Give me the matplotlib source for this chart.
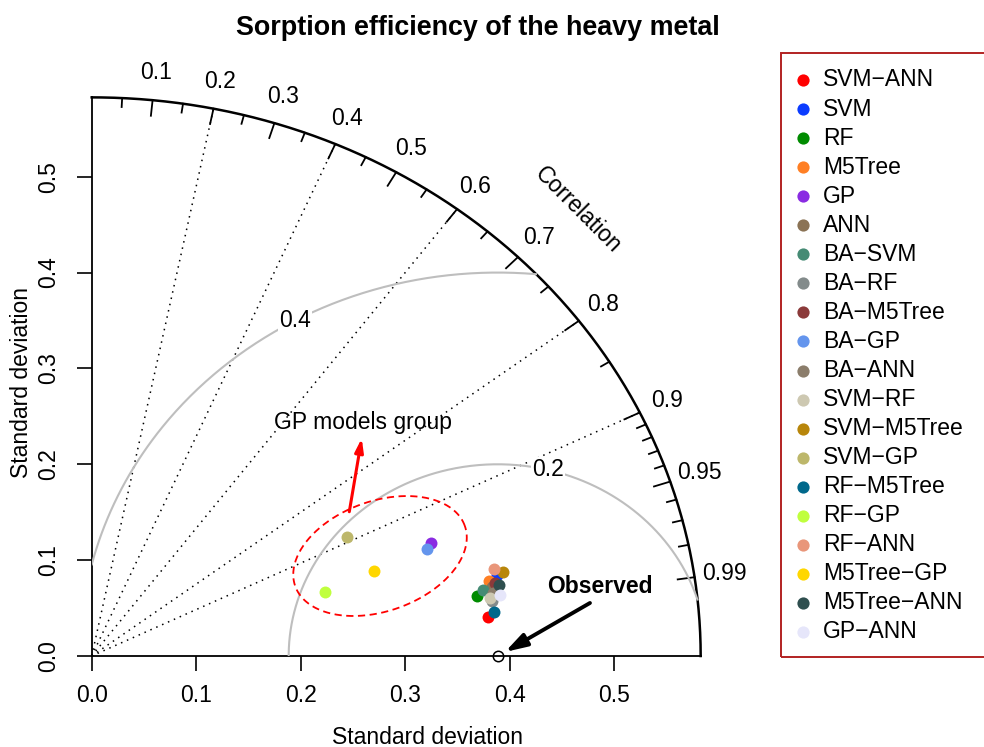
import numpy as np
import matplotlib
matplotlib.use('Agg')
import matplotlib.pyplot as plt
from matplotlib.lines import Line2D
from matplotlib.patches import Rectangle

plt.rcParams['font.family'] = ['Liberation Sans', 'DejaVu Sans']

# models, in the order they are plotted / listed in the legend
models = ['SVM\u2212ANN', 'SVM', 'RF', 'M5Tree', 'GP', 'ANN', 'BA\u2212SVM', 'BA\u2212RF',
          'BA\u2212M5Tree', 'BA\u2212GP', 'BA\u2212ANN', 'SVM\u2212RF', 'SVM\u2212M5Tree',
          'SVM\u2212GP', 'RF\u2212M5Tree', 'RF\u2212GP', 'RF\u2212ANN', 'M5Tree\u2212GP',
          'M5Tree\u2212ANN', 'GP\u2212ANN']
colors = ['#FF0000', '#0B3CFF', '#008B00', '#FF7F24', '#8A2BE2', '#8B7355', '#458B74',
          '#838B8B', '#8B3A3A', '#6495ED', '#8B7D6B', '#CDC8B1', '#B8860B', '#BDB76B',
          '#00688B', '#C0FF3E', '#E9967A', '#FFD700', '#2F4F4F', '#E6E6FA']
# standard deviation and correlation of each model
sd = [0.3817, 0.3972, 0.3742, 0.3885, 0.3451, 0.3897, 0.3805, 0.3871, 0.3934, 0.3399,
      0.3896, 0.3858, 0.4030, 0.2736, 0.3880, 0.2332, 0.3958, 0.2840, 0.3970, 0.3958]
cor = [0.9942, 0.9771, 0.9861, 0.9794, 0.9401, 0.9828, 0.9835, 0.9889, 0.9812, 0.9449,
       0.9855, 0.9878, 0.9759, 0.8918, 0.9931, 0.9576, 0.9735, 0.9503, 0.9824, 0.9871]
sd_obs = 0.3885

corr_major = [0.1, 0.2, 0.3, 0.4, 0.5, 0.6, 0.7, 0.8, 0.9, 0.95, 0.99]
corr_minor = [0.05, 0.15, 0.25, 0.35, 0.45, 0.55, 0.65, 0.75, 0.85,
              0.91, 0.92, 0.93, 0.94, 0.96, 0.97, 0.98]
corr_rays = [0.2, 0.4, 0.6, 0.8, 0.9]
gammas = [0.2, 0.4]
gamma_label_deg = [76, 119]
sd_ticks = [0.0, 0.1, 0.2, 0.3, 0.4, 0.5]

maxray = 1.5 * sd_obs
W, H = 984, 747
xs, ys = 1045.0, 958.6   # pixels per unit
x0, y0 = 91.7, 656.0
fs = 16.5

fig = plt.figure(figsize=(W / 100, H / 100), dpi=100)
lim = 0.66
ax = fig.add_axes([x0 / W, (H - y0) / H, lim * xs / W, lim * ys / H])
ax.set_xlim(0, lim)
ax.set_ylim(0, lim)
for s in ax.spines.values():
    s.set_visible(False)
ax.patch.set_visible(False)

# axes lines
ax.plot([0, maxray], [0, 0], color='black', lw=1.3, clip_on=False)
ax.plot([0, 0], [0, maxray], color='black', lw=1.3, clip_on=False)

ax.set_xticks(sd_ticks)
ax.set_yticks(sd_ticks)
ax.set_xticklabels(['%.1f' % v for v in sd_ticks])
ax.set_yticklabels(['%.1f' % v for v in sd_ticks], rotation=90, va='center')
ax.tick_params(direction='out', length=10.5, width=1.2, labelsize=fs)
ax.tick_params(axis='x', pad=10)
ax.tick_params(axis='y', pad=12)

# outer arc
th = np.linspace(0, np.pi / 2, 300)
ax.plot(maxray * np.cos(th), maxray * np.sin(th), color='black', lw=1.8, clip_on=False)

# correlation rays
for c in corr_rays:
    ax.plot([0, maxray * c], [0, maxray * np.sqrt(1 - c ** 2)], color='black',
            lw=1.1, linestyle=(0, (1, 3.2)), clip_on=False)

# ticks and labels on the arc
for c in corr_major:
    s = np.sqrt(1 - c ** 2)
    ax.plot([maxray * c, 0.972 * maxray * c], [maxray * s, 0.972 * maxray * s],
            color='black', lw=1.3, clip_on=False)
    ax.text(1.05 * maxray * c, 1.05 * maxray * s, '%g' % c, ha='center', va='center',
            fontsize=fs)
for c in corr_minor:
    s = np.sqrt(1 - c ** 2)
    ax.plot([maxray * c, 0.984 * maxray * c], [maxray * s, 0.984 * maxray * s],
            color='black', lw=1.3, clip_on=False)
ax.text(0.4654, 0.4653, 'Correlation', rotation=-45, ha='center', va='center', fontsize=fs)

# centred RMS contours
t = np.linspace(0, np.pi, 600)
for g, ld in zip(gammas, gamma_label_deg):
    gx = sd_obs + g * np.cos(t)
    gy = g * np.sin(t)
    keep = (gx ** 2 + gy ** 2 <= maxray ** 2) & (gx >= 0)
    ax.plot(gx[keep], gy[keep], color='#BEBEBE', lw=1.5)
    a = np.radians(ld)
    ax.text(sd_obs + g * np.cos(a), g * np.sin(a), '%g' % g, ha='center', va='center',
            fontsize=fs, bbox=dict(facecolor='white', edgecolor='none', pad=1))

# observed point
ax.plot([sd_obs], [0], 'o', mfc='none', mec='black', ms=7.5, mew=1.1, clip_on=False)

# models
for name, col, s_, c_ in zip(models, colors, sd, cor):
    ax.plot(s_ * c_, s_ * np.sqrt(1 - c_ ** 2), 'o', color=col, ms=8.6, mew=0)

# annotations
ax.annotate('', xy=(0.3955, 0.0042), xytext=(0.4768, 0.0553),
            arrowprops=dict(arrowstyle='-|>,head_length=1.3,head_width=0.4', color='black',
                            lw=2.8, shrinkA=0, shrinkB=0))
ax.text(0.4865, 0.0720, 'Observed', fontsize=fs, fontweight='bold', ha='center', va='center')
ax.text(0.2598, 0.2441, 'GP models group', fontsize=fs, ha='center', va='center')
ax.annotate('', xy=(0.2584, 0.2271), xytext=(0.2465, 0.1505),
            arrowprops=dict(arrowstyle='-|>,head_length=0.8,head_width=0.25', color='#FF0000',
                            lw=2.2, shrinkA=0, shrinkB=0))
cx, cy, ea, eb, erot = 0.2759, 0.1043, 90.0, 55.0, np.radians(19.6)
tt = np.linspace(0, 2 * np.pi, 300)
ex = ea * np.cos(tt) * np.cos(erot) - eb * np.sin(tt) * np.sin(erot)
ey = ea * np.cos(tt) * np.sin(erot) + eb * np.sin(tt) * np.cos(erot)
ax.plot(cx + ex / xs, cy + ey / ys, color='#FF0000', lw=1.3, linestyle=(0, (4, 2.5)))

# titles
fig.text(478 / W, 1 - 28 / H, 'Sorption efficiency of the heavy metal', fontsize=19.4,
         fontweight='bold', ha='center', va='center')
fig.text(427 / W, 1 - 737 / H, 'Standard deviation', fontsize=fs, ha='center', va='center')
fig.text(21.7 / W, 1 - 382 / H, 'Standard deviation', fontsize=fs, ha='center',
         va='center', rotation=90)

# legend
fig.add_artist(Rectangle((781 / W, 1 - 657 / H), 230 / W, 604 / H, transform=fig.transFigure,
                         facecolor='none', edgecolor='#B22222', lw=1.4))
step = (632 - 80) / (len(models) - 1)
for i, (name, col) in enumerate(zip(models, colors)):
    yy = 1 - (80 + i * step) / H
    fig.add_artist(Line2D([803 / W], [yy], marker='o', color=col, ms=8.8, mew=0,
                          transform=fig.transFigure))
    fig.text(823 / W, yy, name, fontsize=fs, ha='left', va='center')

fig.savefig('out.png', dpi=100)
